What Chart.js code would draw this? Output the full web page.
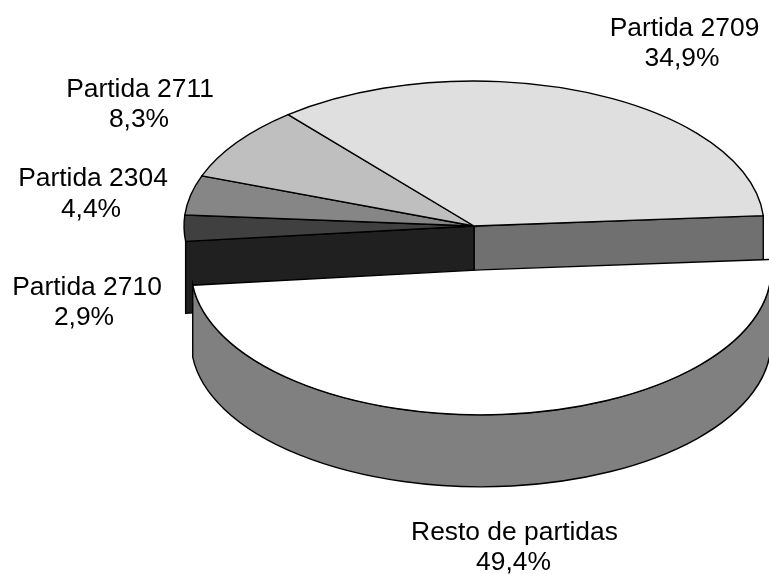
<!DOCTYPE html>
<html>
<head>
<meta charset="utf-8">
<style>
html,body{margin:0;padding:0;background:#fff;overflow:hidden}
#wrap{position:relative;width:769px;height:574px}
</style>
<script src="https://cdn.jsdelivr.net/npm/chart.js@4"></script>
</head>
<body>
<div id="wrap"><canvas id="c" width="769" height="574"></canvas></div>
<script>
const categories = ["Resto de partidas", "Partida 2710", "Partida 2304", "Partida 2711", "Partida 2709"];
const shares = [49.4, 2.9, 4.4, 8.3, 34.9];
const shareLabels = ["49,4%", "2,9%", "4,4%", "8,3%", "34,9%"];
const topColors = ["#ffffff", "#404040", "#868686", "#bfbfbf", "#dfdfdf"];

// Drawing setup (projection of the flat pie into a tilted view)
const view = {cx: 474, cy: 226, tilt: 0.5, depth: 72, radius: 290, rotation: 85.9, explodeIndex: 0, explode: 80};
const walls = {rim: "#808080", leftCut: "#202020", rightCut: "#707070"};
const labelSpots = [
  {x: [514.5, 513.5], y: [540, 570]},
  {x: [87, 84],       y: [295, 325]},
  {x: [93, 91],       y: [186, 217]},
  {x: [140, 139],     y: [97, 127]},
  {x: [684.5, 682],   y: [36, 66]}
];

const tiltedPie = {
  id: "tiltedPie",
  beforeDatasetsDraw(chart) {
    const ctx = chart.ctx, arcs = chart.getDatasetMeta(0).data;
    const ox = arcs[0].x, oy = arcs[0].y;
    const offsetOf = (arc, i) => {
      if (i !== view.explodeIndex) return {dx: 0, dy: 0};
      const m = (arc.startAngle + arc.endAngle) / 2;
      return {dx: Math.cos(m) * view.explode, dy: Math.sin(m) * view.explode * 0.55};
    };
    const stroke = () => { ctx.lineWidth = 1.4; ctx.strokeStyle = "#000"; ctx.stroke(); };
    const cutWall = (arc, a, color) => {
      const px = view.cx + Math.cos(a) * arc.outerRadius;
      const py = view.cy + Math.sin(a) * arc.outerRadius * view.tilt;
      ctx.beginPath();
      ctx.moveTo(view.cx, view.cy);
      ctx.lineTo(px, py);
      ctx.lineTo(px, py + view.depth);
      ctx.lineTo(view.cx, view.cy + view.depth);
      ctx.closePath();
      ctx.fillStyle = color; ctx.fill(); stroke();
    };
    const rim = (arc, i, a0, a1, color) => {
      const o = offsetOf(arc, i);
      const ex = view.cx + o.dx, ey = view.cy + o.dy, rx = arc.outerRadius, ry = rx * view.tilt;
      ctx.beginPath();
      ctx.ellipse(ex, ey, rx, ry, 0, a0, a1, false);
      ctx.ellipse(ex, ey + view.depth, rx, ry, 0, a1, a0, true);
      ctx.closePath();
      ctx.fillStyle = color; ctx.fill(); stroke();
    };
    const top = (arc, i) => {
      const o = offsetOf(arc, i);
      ctx.save();
      ctx.translate(view.cx + o.dx, view.cy + o.dy);
      ctx.scale(1, view.tilt);
      ctx.translate(-ox, -oy);
      arc.draw(ctx);
      ctx.restore();
      ctx.beginPath();
      ctx.moveTo(view.cx + o.dx, view.cy + o.dy);
      ctx.ellipse(view.cx + o.dx, view.cy + o.dy, arc.outerRadius, arc.outerRadius * view.tilt, 0, arc.startAngle, arc.endAngle, false);
      ctx.closePath();
      stroke();
    };
    const hero = arcs[view.explodeIndex];
    // cut faces of the remaining pie, revealed by the pulled-out slice
    cutWall(hero, hero.startAngle, walls.rightCut);
    cutWall(hero, hero.endAngle, walls.leftCut);
    arcs.forEach((arc, i) => { if (i !== view.explodeIndex) top(arc, i); });
    // pulled-out slice
    rim(hero, view.explodeIndex, Math.max(hero.startAngle, 0), hero.endAngle, walls.rim);
    top(hero, view.explodeIndex);
    return false;
  },
  afterDraw(chart) {
    const ctx = chart.ctx;
    ctx.save();
    ctx.fillStyle = "#000";
    ctx.font = '26.4px "Liberation Sans", Arial, sans-serif';
    ctx.textAlign = "center";
    ctx.textBaseline = "alphabetic";
    categories.forEach((name, i) => {
      ctx.fillText(name, labelSpots[i].x[0], labelSpots[i].y[0]);
      ctx.fillText(shareLabels[i], labelSpots[i].x[1], labelSpots[i].y[1]);
    });
    ctx.restore();
  }
};

new Chart(document.getElementById("c"), {
  type: "pie",
  data: {
    labels: categories,
    datasets: [{data: shares, backgroundColor: topColors, borderWidth: 0}]
  },
  options: {
    responsive: false,
    animation: false,
    radius: view.radius,
    rotation: view.rotation,
    layout: {padding: 0},
    plugins: {legend: {display: false}, tooltip: {enabled: false}}
  },
  plugins: [tiltedPie]
});
</script>
</body>
</html>
